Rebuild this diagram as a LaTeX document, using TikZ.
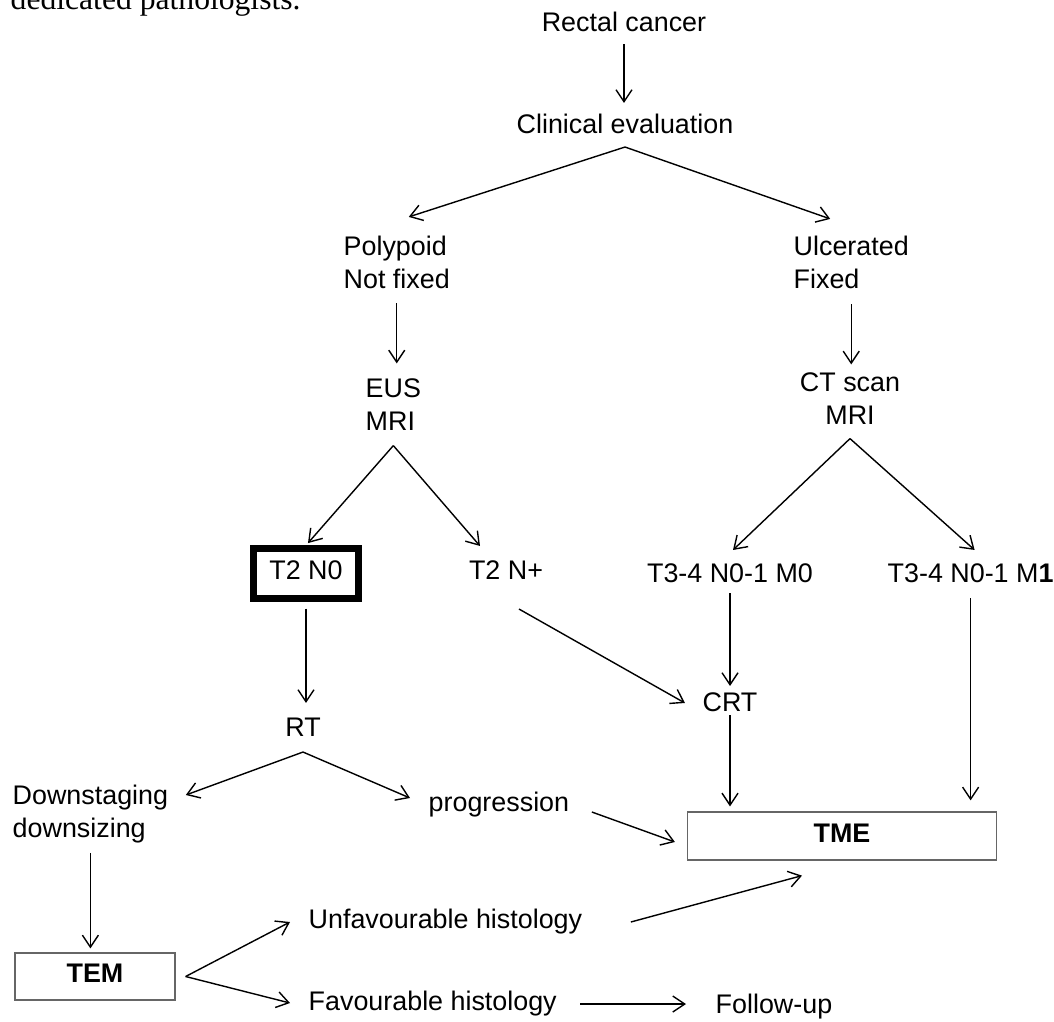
\documentclass[tikz,border=0pt]{standalone}
\usepackage{fontspec}
\setmainfont{Liberation Sans}
\newfontfamily\textserif{Liberation Serif}
\usetikzlibrary{arrows.meta,calc}
\newcommand\diagfont{\fontsize{15.3}{18.8}\selectfont}
\tikzset{
  txt/.style={inner sep=0pt, text height=0.72em, text depth=0pt},
  lines/.style={inner sep=0pt, align=left},
  stagebox/.style={draw, line width=3.6pt, inner sep=0pt, text height=0.72em, text depth=0pt},
  surgbox/.style={draw=black!60, line width=0.7pt, inner sep=0pt, font=\diagfont\bfseries, text height=0.72em, text depth=0pt}
}
\begin{document}
\begin{tikzpicture}[x=0.02cm,y=-0.02cm,font=\diagfont,line width=0.8pt,
  >={Straight Barb[length=0.24cm,width=0.32cm]}]
\useasboundingbox (0,0) rectangle (1054,1021);
\clip (0,0) rectangle (1054,1021);

\node[anchor=base west, inner sep=0pt, font=\textserif\fontsize{18}{20}\selectfont] (note) at (10,10) {dedicated pathologists.};

\node[txt] (rectal) at (624,25) {Rectal cancer};
\node[txt] (clinical) at (625,127) {Clinical evaluation};
\node[lines, anchor=west] (polypoid) at (343,262) {Polypoid\\Not fixed};
\node[lines, anchor=west] (ulcerated) at (793,262) {Ulcerated\\Fixed};
\node[lines, anchor=west] (eus) at (365,405) {EUS\\MRI};
\node[lines, align=center] (ctscan) at (850,399) {CT scan\\MRI};
\node[stagebox, minimum width=2.1cm, minimum height=1cm] (t2n0) at (306,573.5) {T2 N0};
\node[txt] (t2np) at (506,573) {T2 N+};
\node[txt] (m0) at (730,576) {T3-4 N0-1 M0};
\node[txt, anchor=west] (m1) at (887,576) {T3-4 N0-1 M\textbf{1}};
\node[txt] (crt) at (730,705) {CRT};
\node[txt] (rt) at (303,730) {RT};
\node[lines, anchor=west] (down) at (12,814) {Downstaging\\downsizing};
\node[txt, anchor=west] (prog) at (428,805) {progression};
\node[surgbox, minimum width=6.18cm, minimum height=0.96cm] (tme) at (842,836) {TME};
\node[surgbox, minimum width=3.2cm, minimum height=0.94cm] (tem) at (95,976.5) {TEM};
\node[txt, anchor=west] (unfav) at (308,922) {Unfavourable histology};
\node[txt, anchor=west] (fav) at (308,1004) {Favourable histology};
\node[txt, anchor=west] (follow) at (715,1007) {Follow-up};

\coordinate (ce-fork) at ($(clinical.south)+(0,13)$);
\coordinate (eus-fork) at ($(eus.south)+(0,14)$);
\coordinate (ct-fork) at ($(ctscan.south)+(0,13)$);
\coordinate (rt-fork) at ($(rt.south)+(0,15)$);
\coordinate (tem-fork) at ($(tem.east)+(10,0)$);

\draw[->, shorten <=0.24cm, shorten >=0.34cm] (rectal.south) -- (rectal.south |- clinical.north);
\draw[->] (ce-fork) -- ($(polypoid.north)+(12,-18)$);
\draw[->] (ce-fork) -- ($(ulcerated.north)+(-21,-16)$);
\draw[->, shorten <=0.28cm, shorten >=0.3cm] (polypoid.south) -- (polypoid.south |- eus.north);
\draw[->, shorten <=0.3cm, shorten >=0.16cm] (ulcerated.south) -- (ulcerated.south |- ctscan.north);
\draw[->, shorten >=0.06cm] (eus-fork) -- (t2n0.north);
\draw[->] (eus-fork) -- ($(t2np.north)+(-26,-20)$);
\draw[->] (ct-fork) -- ($(m0.north)+(3,-19)$);
\draw[->] (ct-fork) -- ($(m1.north)+(4,-19)$);
\draw[->, shorten <=0.14cm, shorten >=0.4cm] (t2n0.south) -- (t2n0.south |- rt.north);
\draw[->] ($(t2np.south)+(13,29)$) -- ($(crt.west)+(-17,-2)$);
\draw[->, shorten <=0.2cm, shorten >=0.24cm] (m0.south) -- (m0.south |- crt.north);
\draw[->, shorten <=0.06cm, shorten >=0.1cm] (crt.south) -- (crt.south |- tme.north);
\draw[->, shorten <=0.3cm, shorten >=0.22cm] (m1.south) -- (m1.south |- tme.north);
\draw[->] (rt-fork) -- ($(down.east)+(17,-19)$);
\draw[->] (rt-fork) -- ($(prog.west)+(-18,-7)$);
\draw[->, shorten <=0.18cm, shorten >=0.08cm] (down.south) -- (down.south |- tem.north);
\draw[->] ($(prog.east)+(22,7)$) -- ($(tme.west)+(-12,6)$);
\draw[->] (tem-fork) -- ($(unfav.west)+(-18,0)$);
\draw[->] (tem-fork) -- ($(fav.west)+(-18,-1)$);
\draw[->] ($(unfav.east)+(48,0)$) -- ($(tme.south)+(-40,15)$);
\draw[->, shorten <=0.46cm, shorten >=0.58cm] (fav.east) -- (fav.east -| follow.west);
\end{tikzpicture}
\end{document}
